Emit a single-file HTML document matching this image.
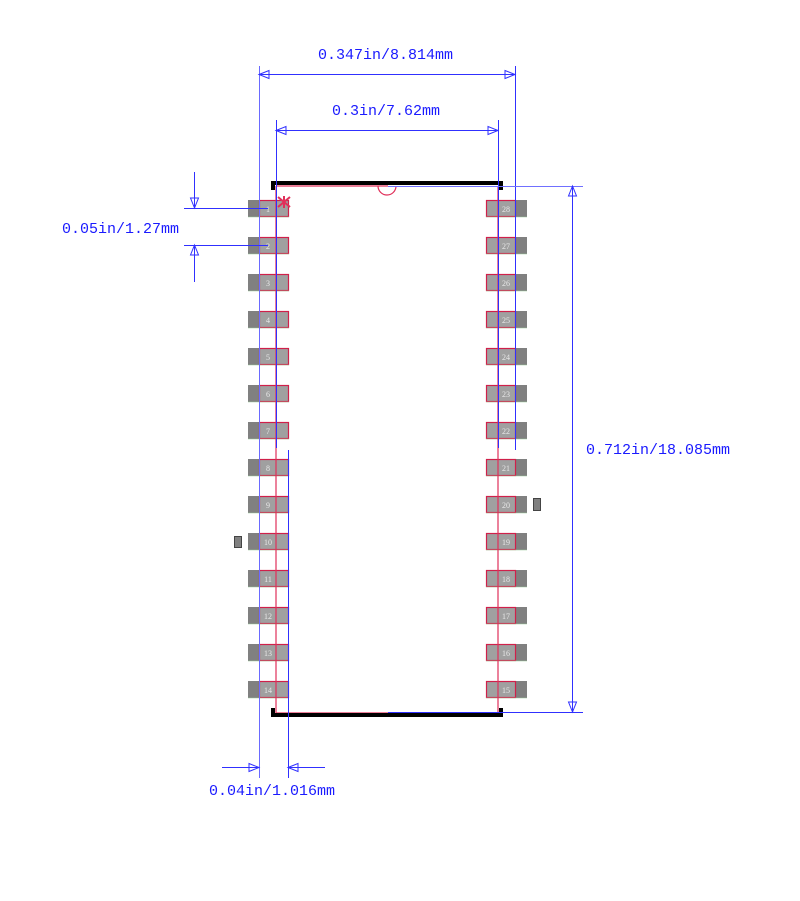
<!DOCTYPE html>
<html><head><meta charset="utf-8"><style>
html,body{margin:0;padding:0;background:#fff;width:800px;height:901px;overflow:hidden}
svg{display:block}
.t{font-family:"Liberation Mono","DejaVu Sans Mono",monospace;font-size:15px;fill:#1a1aff}
.n{font-family:"Liberation Serif",serif;font-size:8px;fill:#e8e8e8;text-anchor:middle}
</style></head><body>
<svg width="800" height="901" viewBox="0 0 800 901" xmlns="http://www.w3.org/2000/svg">
<defs>
<g id="pl"><rect x="248" y="0" width="41" height="17" fill="#808080"/><rect x="259.5" y="0.5" width="29" height="16" fill="#a0a0a0" stroke="#d0204a" stroke-width="1.2"/><line x1="248" y1="17" x2="289" y2="17" stroke="#9c9" stroke-width="0.6"/></g>
<g id="pr"><rect x="486" y="0" width="41" height="17" fill="#808080"/><rect x="486.5" y="0.5" width="29" height="16" fill="#a0a0a0" stroke="#d0204a" stroke-width="1.2"/><line x1="486" y1="17" x2="527" y2="17" stroke="#9c9" stroke-width="0.6"/></g>
</defs>
<use href="#pl" y="200"/><use href="#pl" y="237"/><use href="#pl" y="274"/><use href="#pl" y="311"/><use href="#pl" y="348"/><use href="#pl" y="385"/><use href="#pl" y="422"/><use href="#pl" y="459"/><use href="#pl" y="496"/><use href="#pl" y="533"/><use href="#pl" y="570"/><use href="#pl" y="607"/><use href="#pl" y="644"/><use href="#pl" y="681"/>
<use href="#pr" y="200"/><use href="#pr" y="237"/><use href="#pr" y="274"/><use href="#pr" y="311"/><use href="#pr" y="348"/><use href="#pr" y="385"/><use href="#pr" y="422"/><use href="#pr" y="459"/><use href="#pr" y="496"/><use href="#pr" y="533"/><use href="#pr" y="570"/><use href="#pr" y="607"/><use href="#pr" y="644"/><use href="#pr" y="681"/>
<g class="n">
<text x="268" y="212">1</text><text x="268" y="249">2</text><text x="268" y="286">3</text><text x="268" y="323">4</text><text x="268" y="360">5</text><text x="268" y="397">6</text><text x="268" y="434">7</text><text x="268" y="471">8</text><text x="268" y="508">9</text><text x="268" y="545">10</text><text x="268" y="582">11</text><text x="268" y="619">12</text><text x="268" y="656">13</text><text x="268" y="693">14</text>
<text x="506" y="212">28</text><text x="506" y="249">27</text><text x="506" y="286">26</text><text x="506" y="323">25</text><text x="506" y="360">24</text><text x="506" y="397">23</text><text x="506" y="434">22</text><text x="506" y="471">21</text><text x="506" y="508">20</text><text x="506" y="545">19</text><text x="506" y="582">18</text><text x="506" y="619">17</text><text x="506" y="656">16</text><text x="506" y="693">15</text>
</g>
<rect x="234.5" y="536.5" width="7" height="11" fill="#808080" stroke="#444"/>
<rect x="533.5" y="498.5" width="7" height="12" fill="#808080" stroke="#444"/>
<!-- red body outline -->
<g stroke="#e0305a" stroke-width="1.2" fill="none">
<line x1="276" y1="186" x2="276" y2="713"/><line x1="498" y1="186" x2="498" y2="713"/>
<line x1="276" y1="186" x2="388" y2="186"/><line x1="276" y1="713" x2="388" y2="713"/>
<path d="M378 186 A9 9 0 0 0 396 186"/>
<path d="M278 197 L290 207 M290 197 L278 207 M284 196 L284 208" stroke-width="2"/>
</g>
<!-- black outline -->
<g stroke="#000" stroke-width="4" fill="none">
<path d="M273 190 V183 H501 V190"/>
<path d="M273 708 V715 H501 V708"/>
</g>
<!-- blue lines -->
<g stroke="#3030ff" stroke-width="1" fill="none">
<line x1="259.5" y1="66" x2="259.5" y2="778" stroke="#6a6aff"/>
<line x1="276.5" y1="120" x2="276.5" y2="448"/>
<line x1="288.5" y1="450" x2="288.5" y2="778"/>
<line x1="498.5" y1="120" x2="498.5" y2="448"/>
<line x1="515.5" y1="66" x2="515.5" y2="450"/>
<line x1="259" y1="74.5" x2="515" y2="74.5"/>
<line x1="276" y1="130.5" x2="498" y2="130.5"/>
<line x1="388" y1="186.5" x2="583" y2="186.5" stroke="#7070ff"/>
<line x1="388" y1="712.5" x2="583" y2="712.5"/>
<line x1="572.5" y1="186" x2="572.5" y2="712"/>
<line x1="184" y1="208.5" x2="268" y2="208.5"/>
<line x1="184" y1="245.5" x2="268" y2="245.5"/>
<line x1="194.5" y1="172" x2="194.5" y2="208"/>
<line x1="194.5" y1="245" x2="194.5" y2="282"/>
<line x1="222" y1="767.5" x2="259" y2="767.5"/>
<line x1="288" y1="767.5" x2="325" y2="767.5"/>
<path d="M259 74.5 l10 -4 v8 z M515 74.5 l-10 -4 v8 z"/>
<path d="M276 130.5 l10 -4 v8 z M498 130.5 l-10 -4 v8 z"/>
<path d="M572.5 186 l-4 10 h8 z M572.5 712 l-4 -10 h8 z"/>
<path d="M194.5 208 l-4 -10 h8 z M194.5 245 l-4 10 h8 z"/>
<path d="M259 767.5 l-10 -4 v8 z M288 767.5 l10 -4 v8 z"/>
</g>
<text class="t" x="318" y="59">0.347in/8.814mm</text>
<text class="t" x="332" y="115">0.3in/7.62mm</text>
<text class="t" x="62" y="233">0.05in/1.27mm</text>
<text class="t" x="586" y="454">0.712in/18.085mm</text>
<text class="t" x="209" y="795">0.04in/1.016mm</text>
</svg>
</body></html>
